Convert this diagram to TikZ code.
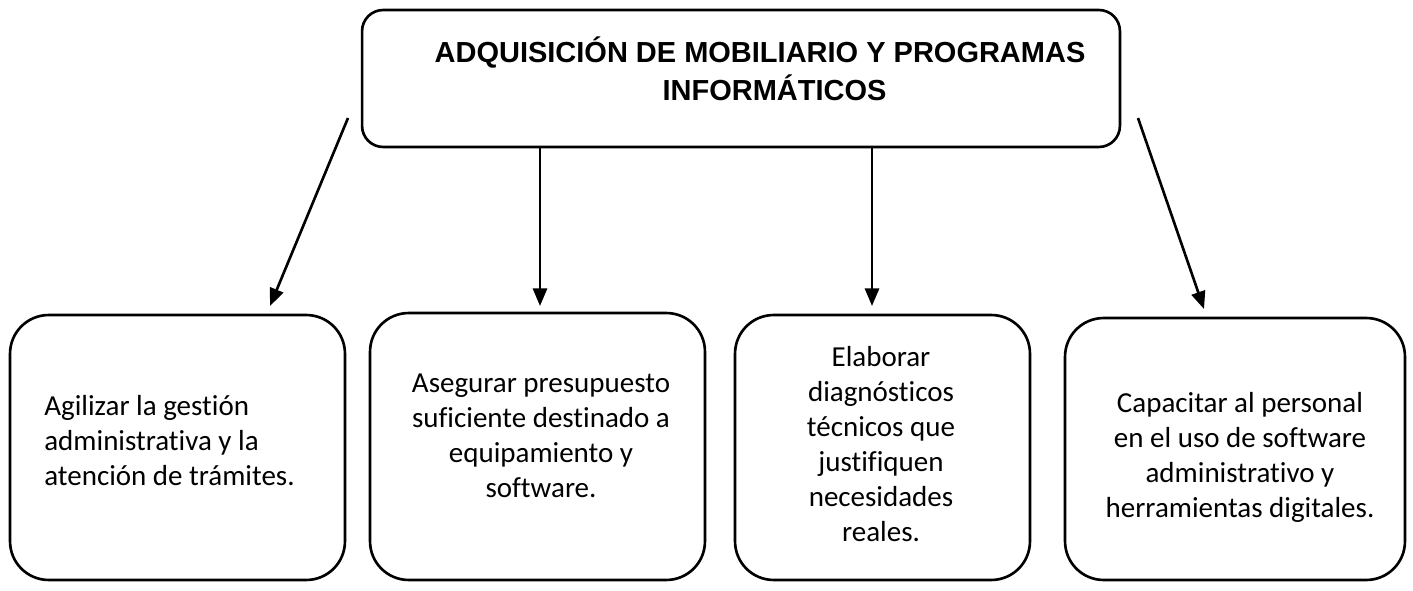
\documentclass[tikz,border=0pt]{standalone}
\usepackage{fontspec}
\setmainfont{Carlito}[Ligatures=CommonOff]
\newfontfamily\titlefont{Liberation Sans}
\usetikzlibrary{arrows.meta}
\tikzset{>/.tip={Triangle[length=10pt,width=8pt]}}
\tikzset{
  topbox/.style={draw, line width=1.5pt, rounded corners=12pt, minimum width=15.16cm, minimum height=2.74cm},
  goalbox/.style={draw, line width=1.5pt, rounded corners=22pt, minimum height=5.3cm},
  goaltext/.style={align=center, inner sep=0pt, font=\fontsize{16.5}{19.9}\selectfont},
  link/.style={->, line width=1.5pt}
}

\begin{document}
\begin{tikzpicture}[x=0.02cm, y=-0.02cm]
\useasboundingbox (0,0) rectangle (1413,591);

% main box
\node[topbox] (top) at (741,78.5) {};
\node[align=center, font=\titlefont\bfseries\fontsize{16.5}{21.5}\selectfont] (title) at (760,69)
  {ADQUISICIÓN DE MOBILIARIO Y PROGRAMAS\\\hspace*{1em}INFORMÁTICOS};

% goal boxes
\node[goalbox, minimum width=6.7cm] (g1) at (177.5,447.5) {};
\node[goalbox, minimum width=6.7cm, minimum height=5.34cm] (g2) at (537.5,446.5) {};
\node[goalbox, minimum width=5.9cm] (g3) at (882.5,447.5) {};
\node[goalbox, minimum width=6.8cm, minimum height=5.24cm] (g4) at (1235,449) {};

\node[goaltext, align=left, anchor=west] (txt1) at (44,441)
  {Agilizar la gestión\\administrativa y la\\atención de trámites.};
\node[goaltext] (txt2) at (541,436)
  {Asegurar presupuesto\\suficiente destinado a\\equipamiento y\\software.};
\node[goaltext] (txt3) at (881,444)
  {Elaborar\\diagnósticos\\técnicos que\\justifiquen\\necesidades\\reales.};
\node[goaltext] (txt4) at (1240,457)
  {Capacitar al personal\\en el uso de software\\administrativo y\\herramientas digitales.};

% arrows
\coordinate (s1) at (348,118);
\coordinate (e1) at (270,306);
\coordinate (e2) at (540,306);
\coordinate (e3) at (872,306);
\coordinate (s4) at (1138,118);
\coordinate (e4) at (1204,309);

\draw[link] (s1) -- (e1);
\draw[link] (top.south -| e2) -- (e2);
\draw[link] (top.south -| e3) -- (e3);
\draw[link] (s4) -- (e4);
\end{tikzpicture}
\end{document}
